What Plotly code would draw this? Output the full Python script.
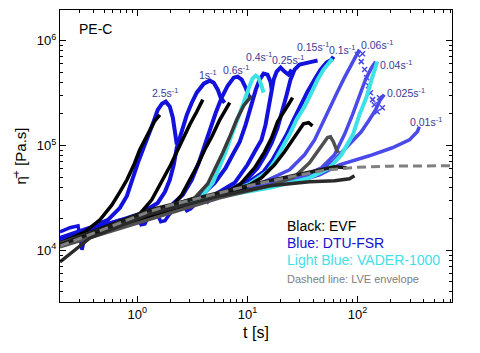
import numpy as np
import plotly.graph_objects as go

# ---------------- data ----------------
# LVE envelope
t_lve = [0.2, 0.5, 1, 1.3, 2, 5, 10, 24, 50, 100, 200, 700]
eta_lve = [1.1e4, 1.6e4, 2.1e4, 2.35e4, 2.7e4, 3.4e4, 4.1e4, 5.0e4, 5.8e4, 6.2e4, 6.35e4, 6.4e4]

# EVF (black / dark gray)
t_evf_25 = [0.198, 0.334, 0.457, 0.587, 0.694, 0.803, 0.930, 1.05, 1.17, 1.30, 1.44, 1.60]
eta_evf_25 = [1.17e4, 1.50e4, 1.95e4, 2.71e4, 3.61e4, 4.70e4, 6.54e4, 9.10e4, 1.13e5, 1.41e5, 1.72e5, 1.96e5]
t_evf_1 = [0.198, 0.457, 1.05, 1.35, 1.70, 2.01, 2.33, 2.64, 2.99, 3.46, 3.93]
eta_evf_1 = [1.15e4, 1.60e4, 2.22e4, 3.03e4, 4.70e4, 6.54e4, 9.10e4, 1.21e5, 1.58e5, 2.10e5, 2.74e5]
t_evf_06 = [0.198, 0.694, 1.97, 2.53, 2.99, 3.54, 4.09, 4.74, 5.60, 6.90]
eta_evf_06 = [1.12e4, 1.78e4, 2.48e4, 3.38e4, 4.70e4, 6.54e4, 9.10e4, 1.21e5, 1.76e5, 2.56e5]
t_evf_04 = [0.198, 1.30, 3.32, 4.36, 5.15, 5.96, 6.90, 7.98, 9.24, 10.9]
eta_evf_04 = [1.17e4, 2.27e4, 3.16e4, 4.31e4, 6.12e4, 8.52e4, 1.21e5, 1.76e5, 2.40e5, 2.99e5]
t_evf_015 = [0.198, 1.97, 5.60, 8.50, 11.6, 14.3, 16.6, 18.8, 21.7, 24.1, 25.7]
eta_evf_015 = [1.12e4, 2.38e4, 3.30e4, 4.21e4, 6.12e4, 8.70e4, 1.19e5, 1.69e5, 2.19e5, 2.56e5, 2.86e5]
t_evf_01 = [0.198, 3.69, 9.43, 13.4, 17.6, 21.7, 25.7, 29.1, 32.3, 35.9, 39.0]
eta_evf_01 = [1.10e4, 2.90e4, 3.94e4, 4.91e4, 6.54e4, 8.70e4, 1.13e5, 1.41e5, 1.61e5, 1.65e5, 1.54e5]
t_evf_006 = [0.198, 5.60, 15.9, 26.8, 36.6, 43.3, 49.1, 53.4, 56.8, 60.4, 64.4, 67.1]
eta_evf_006 = [1.08e4, 3.16e4, 4.12e4, 5.02e4, 6.83e4, 8.70e4, 1.06e5, 1.19e5, 1.21e5, 1.08e5, 9.10e4, 8.52e4]
t_evf_004 = [0.198, 1.30, 10.5, 29.7, 45.2, 61.8, 79.3]
eta_evf_004 = [1.12e4, 2.43e4, 4.21e4, 5.36e4, 5.86e4, 6.26e4, 6.12e4]
t_evf_001 = [0.198, 0.371, 1.30, 5.60, 15.9, 36.6, 61.8, 84.5, 93.8]
eta_evf_001 = [7.73e3, 1.31e4, 2.22e4, 3.30e4, 4.12e4, 4.50e4, 4.60e4, 4.81e4, 5.13e4]

# DTU-FSR (blue)
t_fsr_25 = [0.198, 0.371, 0.540, 0.694, 0.803, 0.892, 1.01, 1.12, 1.245, 1.38, 1.53, 1.67, 1.81, 1.97, 2.10, 2.19, 2.28]
eta_fsr_25 = [1.31e4, 1.64e4, 1.95e4, 2.54e4, 3.30e4, 4.70e4, 6.83e4, 9.10e4, 1.19e5, 1.61e5, 2.19e5, 2.50e5, 2.62e5, 2.35e5, 1.84e5, 1.41e5, 1.02e5]
t_fsr_1 = [0.198, 0.457, 1.05, 1.53, 1.78, 1.97, 2.14, 2.28, 2.53, 2.81, 3.12, 3.46, 4.01, 4.54, 4.94, 5.37, 5.71, 6.21]
eta_fsr_1 = [1.25e4, 1.67e4, 2.22e4, 2.83e4, 3.61e4, 4.70e4, 6.54e4, 9.51e4, 1.41e5, 1.96e5, 2.56e5, 3.19e5, 3.89e5, 4.16e5, 3.97e5, 3.41e5, 2.86e5, 2.56e5]
t_fsr_06 = [0.198, 0.694, 1.97, 2.59, 3.12, 3.61, 4.09, 4.64, 5.15, 5.83, 6.61, 7.50, 8.15, 8.86, 9.63, 10.3]
eta_fsr_06 = [1.25e4, 1.87e4, 2.60e4, 3.38e4, 4.70e4, 6.83e4, 1.02e5, 1.48e5, 2.05e5, 2.86e5, 3.72e5, 4.44e5, 4.54e5, 4.25e5, 3.56e5, 2.92e5]
t_fsr_04 = [0.198, 1.30, 3.69, 5.04, 6.34, 7.50, 8.50, 9.63, 10.7, 11.9, 12.9, 14.0, 15.2, 16.2, 16.6]
eta_fsr_04 = [1.23e4, 2.32e4, 3.23e4, 4.40e4, 6.12e4, 8.52e4, 1.08e5, 1.58e5, 2.35e5, 3.41e5, 4.25e5, 4.85e5, 4.74e5, 4.06e5, 3.41e5]
t_fsr_025 = [0.198, 1.97, 5.04, 7.65, 10.0, 11.9, 13.4, 14.6, 15.9, 17.3, 18.4, 20.0, 21.7, 23.6, 25.2]
eta_fsr_025 = [1.23e4, 2.54e4, 3.38e4, 4.40e4, 6.54e4, 9.10e4, 1.13e5, 1.58e5, 2.74e5, 4.25e5, 5.07e5, 5.53e5, 5.07e5, 4.74e5, 5.30e5]
t_fsr_015 = [0.198, 2.43, 6.21, 9.43, 12.4, 14.6, 16.6, 18.8, 20.8, 22.7, 24.6, 26.8, 29.7, 34.4, 39.0, 43.3]
eta_fsr_015 = [1.25e4, 2.65e4, 3.53e4, 4.50e4, 6.12e4, 8.15e4, 1.06e5, 1.48e5, 2.10e5, 3.05e5, 4.25e5, 5.30e5, 5.91e5, 6.18e5, 6.31e5, 6.46e5]
t_fsr_01 = [0.198, 3.69, 9.43, 14.0, 16.9, 19.6, 22.7, 26.2, 30.4, 35.1, 40.7, 46.1, 52.3, 58.0, 60.4]
eta_fsr_01 = [1.25e4, 3.03e4, 4.21e4, 5.61e4, 7.30e4, 9.51e4, 1.27e5, 1.76e5, 2.45e5, 3.26e5, 4.25e5, 5.30e5, 6.18e5, 6.59e5, 7.05e5]
t_fsr_low = [0.198, 0.244, 0.289, 0.314, 0.341, 0.457, 0.694, 0.990, 1.08, 1.17, 1.30, 1.50, 1.63, 1.78, 2.06, 2.59, 2.81, 3.05, 3.69, 4.09, 4.36, 4.74, 6.90]
eta_fsr_low = [1.50e4, 1.64e4, 1.71e4, 1.01e4, 1.50e4, 1.71e4, 1.95e4, 2.08e4, 1.75e4, 1.78e4, 2.22e4, 2.27e4, 1.87e4, 1.91e4, 2.38e4, 2.71e4, 2.38e4, 2.48e4, 3.03e4, 3.16e4, 2.90e4, 3.23e4, 3.61e4]
# DTU-FSR low rates (lighter blue crosses)
t_fsr_006 = [0.198, 3.69, 12.9, 24.1, 33.0, 40.7, 47.1, 55.6, 65.7, 76.0, 86.3, 95.7, 104]
eta_fsr_006 = [1.25e4, 2.96e4, 4.31e4, 5.86e4, 8.15e4, 1.13e5, 1.58e5, 2.29e5, 3.26e5, 4.44e5, 5.65e5, 6.89e5, 8.22e5]
t_fsr_006_scatter = [99.8, 111, 108, 116, 121, 126, 131, 137]
eta_fsr_006_scatter = [7.36e5, 7.52e5, 6.31e5, 5.30e5, 4.44e5, 3.72e5, 3.19e5, 2.74e5]
t_fsr_004 = [0.198, 10.5, 29.7, 47.1, 61.8, 76.0, 89.9, 104, 118, 134, 146]
eta_fsr_004 = [1.23e4, 4.12e4, 4.91e4, 6.12e4, 8.15e4, 1.27e5, 1.96e5, 2.92e5, 4.25e5, 5.53e5, 6.31e5]
t_fsr_0025 = [0.198, 10.5, 29.7, 45.2, 61.8, 84.5, 108, 128, 146, 161, 175]
eta_fsr_0025 = [1.23e4, 4.03e4, 4.70e4, 5.61e4, 7.30e4, 1.02e5, 1.35e5, 1.76e5, 2.19e5, 2.74e5, 3.05e5]
t_fsr_0025_scatter = [142, 151, 158, 168]
eta_fsr_0025_scatter = [2.45e5, 2.10e5, 2.86e5, 2.29e5]
t_fsr_001 = [0.198, 10.5, 29.7, 45.2, 68.5, 128, 207, 296, 349, 364]
eta_fsr_001 = [1.20e4, 3.94e4, 4.60e4, 5.25e4, 6.54e4, 7.97e4, 9.51e4, 1.13e5, 1.35e5, 1.51e5]

# VADER-1000 (light blue)
t_vad_04 = [1.30, 3.69, 4.84, 5.60, 6.34, 7.04, 8.15, 9.24, 10.3, 11.1, 11.9, 12.6, 13.4, 14.0]
eta_vad_04 = [2.22e4, 3.09e4, 4.40e4, 6.26e4, 8.71e4, 1.19e5, 1.76e5, 2.56e5, 3.56e5, 4.34e5, 4.64e5, 4.44e5, 3.72e5, 3.19e5]
t_vad_01 = [1.30, 5.60, 10.5, 15.2, 18.0, 20.8, 24.1, 27.9, 33.0, 38.2, 43.3, 49.1, 54.5, 59.2]
eta_vad_01 = [2.22e4, 3.30e4, 4.31e4, 5.61e4, 7.30e4, 9.51e4, 1.27e5, 1.76e5, 2.35e5, 3.19e5, 4.25e5, 5.30e5, 6.18e5, 6.74e5]
t_vad_004 = [3.69, 15.9, 36.6, 55.6, 71.4, 90.8, 104, 121, 134, 142, 151]
eta_vad_004 = [3.03e4, 3.94e4, 4.91e4, 6.12e4, 8.15e4, 1.27e5, 1.96e5, 2.92e5, 4.25e5, 5.30e5, 6.31e5]

# rate labels
rate_labels = ["2.5", "1", "0.6", "0.4", "0.25", "0.15", "0.1", "0.06", "0.04", "0.025", "0.01"]
label_t = [1.78, 4.36, 7.82, 12.6, 23.1, 39.0, 72.9, 149, 225, 277, 421]
label_eta = [3.19e5, 4.74e5, 5.30e5, 7.06e5, 6.59e5, 8.79e5, 8.22e5, 9.18e5, 5.91e5, 3.19e5, 1.69e5]

x_tick_vals = [1, 10, 100]
x_tick_text = ["10<sup>0</sup>", "10<sup>1</sup>", "10<sup>2</sup>"]
y_tick_vals = [1e4, 1e5, 1e6]
y_tick_text = ["10<sup>4</sup>", "10<sup>5</sup>", "10<sup>6</sup>"]

# ---------------- styles ----------------
BLACK = "#000000"
DGRAY = "#3a3a3a"
BLUE = "#1212dc"
PURPLE = "#4a4aea"
CYAN = "#3de2e6"
LBL = "#3a3a98"
FONT = "Liberation Sans, Arial, sans-serif"

fig = go.Figure()

def line(t, e, color, width=4.0):
    fig.add_trace(go.Scatter(x=t, y=e, mode="lines", line=dict(color=color, width=width),
                             showlegend=False, hoverinfo="skip"))

def pts(t, e, color):
    fig.add_trace(go.Scatter(x=t, y=e, mode="markers",
                             marker=dict(symbol="x-thin-open", size=5, color=color,
                                         line=dict(color=color, width=1.5)),
                             showlegend=False, hoverinfo="skip"))

# low-rate blue crosses (behind)
line(t_fsr_001, eta_fsr_001, PURPLE, 3.5)
line(t_fsr_0025, eta_fsr_0025, PURPLE, 3.5)
pts(t_fsr_0025_scatter, eta_fsr_0025_scatter, PURPLE)
line(t_fsr_004, eta_fsr_004, PURPLE, 3.5)
line(t_fsr_006, eta_fsr_006, PURPLE, 3.5)
pts(t_fsr_006_scatter, eta_fsr_006_scatter, PURPLE)

line(t_fsr_low, eta_fsr_low, BLUE, 3.5)

for t, e in [(t_fsr_25, eta_fsr_25), (t_fsr_1, eta_fsr_1), (t_fsr_06, eta_fsr_06), (t_fsr_04, eta_fsr_04),
             (t_fsr_025, eta_fsr_025), (t_fsr_015, eta_fsr_015), (t_fsr_01, eta_fsr_01)]:
    line(t, e, BLUE, 4.0)

for t, e in [(t_vad_04, eta_vad_04), (t_vad_01, eta_vad_01), (t_vad_004, eta_vad_004)]:
    line(t, e, CYAN, 4.0)

for t, e, c in [(t_evf_25, eta_evf_25, BLACK), (t_evf_1, eta_evf_1, BLACK), (t_evf_06, eta_evf_06, BLACK),
                (t_evf_04, eta_evf_04, DGRAY), (t_evf_015, eta_evf_015, BLACK), (t_evf_01, eta_evf_01, BLACK),
                (t_evf_006, eta_evf_006, "#505050"), (t_evf_004, eta_evf_004, "#1a1a1a"),
                (t_evf_001, eta_evf_001, "#2a2a2a")]:
    line(t, e, c, 3.5)

# LVE envelope
fig.add_trace(go.Scatter(x=t_lve, y=eta_lve, mode="lines",
                         line=dict(color="#808080", width=3, dash="9px,5px"),
                         showlegend=False, hoverinfo="skip"))

# rate labels
for lab, lt, le in zip(rate_labels, label_t, label_eta):
    fig.add_annotation(x=np.log10(lt), y=np.log10(le), xref="x", yref="y",
                       text=f"{lab}s<sup>-1</sup>", showarrow=False,
                       font=dict(family=FONT, size=10.5, color=LBL))

# in-plot texts
fig.add_annotation(x=0.043, y=0.935, xref="paper", yref="paper", xanchor="left", yanchor="middle",
                   text="PE-C", showarrow=False, font=dict(family=FONT, size=14, color="#000000"))
legend_lines = [("Black: EVF", "#000000", 14, 0.260),
                ("Blue: DTU-FSR", "#1010d0", 14, 0.202),
                ("Light Blue: VADER-1000", "#3fe0e6", 14, 0.144),
                ("Dashed line: LVE envelope", "#808080", 11, 0.079)]
for txt, col, sz, yy in legend_lines:
    fig.add_annotation(x=0.574, y=yy, xref="paper", yref="paper", xanchor="left", yanchor="middle",
                       text=txt, showarrow=False, font=dict(family=FONT, size=sz, color=col))

x_minor = [k * 10.0 ** n for n in range(-1, 3) for k in range(2, 10)]
y_minor = [k * 10.0 ** n for n in range(3, 7) for k in range(2, 10)]

axis_common = dict(showline=True, linecolor="black", linewidth=1.2, mirror="ticks", ticks="inside",
                   ticklen=6, tickwidth=1, tickcolor="black", showgrid=False, zeroline=False,
                   tickfont=dict(family=FONT, size=13, color="#000000"))

fig.update_xaxes(type="log", range=[-0.703, 2.858], tickvals=x_tick_vals, ticktext=x_tick_text,
                 minor=dict(ticks="inside", ticklen=3, tickcolor="black", tickvals=x_minor, showgrid=False),
                 title=dict(text="t [s]", font=dict(family=FONT, size=16, color="#000000"), standoff=6),
                 **axis_common)
fig.update_yaxes(type="log", range=[3.506, 6.293], tickvals=y_tick_vals, ticktext=y_tick_text,
                 minor=dict(ticks="inside", ticklen=3, tickcolor="black", tickvals=y_minor, showgrid=False),
                 title=dict(text="\u03b7\u0304<sup>+</sup> [Pa.s]", font=dict(family=FONT, size=15, color="#000000"),
                            standoff=6),
                 **axis_common)

fig.update_layout(width=480, height=353, margin=dict(l=60, r=28, t=10, b=51),
                  paper_bgcolor="white", plot_bgcolor="white", font=dict(family=FONT))

fig.write_html("out.html")
